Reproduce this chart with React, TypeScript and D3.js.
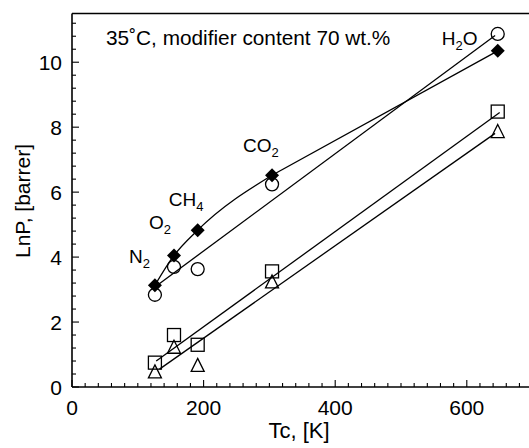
import React from "react";
import * as d3 from "d3";

const gases = ["N2", "O2", "CH4", "CO2", "H2O"];
const tc = [126, 155, 191, 304, 647];
const diamondVals = [3.13, 4.05, 4.83, 6.52, 10.35];
const circleVals = [2.84, 3.7, 3.63, 6.24, 10.87];
const squareVals = [0.75, 1.6, 1.3, 3.56, 8.48];
const triangleVals = [0.48, 1.24, 0.68, 3.25, 7.88];

// straight fit lines: [Tc, LnP] endpoints
const fitCircle: [number, number][] = [[126, 3.08], [643, 10.82]];
const fitSquare: [number, number][] = [[128, 0.8], [650, 8.45]];
const fitTriangle: [number, number][] = [[133, 0.55], [643, 7.81]];

const xTicks = [0, 200, 400, 600];
const yTicks = [0, 2, 4, 6, 8, 10];

const gasLabels = [
  { base: "N", sub: "2", tc: 126, v: 3.13, dx: -26, dy: -22 },
  { base: "O", sub: "2", tc: 155, v: 4.05, dx: -25, dy: -26 },
  { base: "CH", sub: "4", tc: 191, v: 4.83, dx: -29, dy: -24 },
  { base: "CO", sub: "2", tc: 304, v: 6.52, dx: -29, dy: -23 },
  { base: "H", sub: "2", tc: 647, v: 10.87, dx: -56, dy: 11, tail: "O" },
];

const W = 529;
const H = 448;
const FONT = "Liberation Sans, Arial, Helvetica, sans-serif";

export default function App() {
  const x = d3.scaleLinear().domain([0, 700]).range([72, 532.6]);
  const y = d3.scaleLinear().domain([0, 11.5]).range([387, 13.5]);

  const xMinor = d3.range(0, 701, 20);
  const yMinor = d3.range(0, 11.5, 0.4);

  const curve = d3
    .line<[number, number]>()
    .x((d) => x(d[0]))
    .y((d) => y(d[1]))
    .curve(d3.curveMonotoneX);
  const straight = d3
    .line<[number, number]>()
    .x((d) => x(d[0]))
    .y((d) => y(d[1]));

  const diamondPts = tc.map((t, i) => [t, diamondVals[i]] as [number, number]);

  const s = 6.5;
  return (
    <svg
      width={W}
      height={H}
      style={{ position: "absolute", left: 0, top: 0, background: "#fff" }}
      fontFamily={FONT}
    >
      {/* frame */}
      <line x1={x(0)} x2={W + 5} y1={y(11.5)} y2={y(11.5)} stroke="#000" strokeWidth={1.4} />
      <line x1={x(0)} x2={x(0)} y1={y(11.5)} y2={y(0)} stroke="#000" strokeWidth={1.6} />
      <line x1={x(0)} x2={W + 5} y1={y(0)} y2={y(0)} stroke="#000" strokeWidth={1.6} />

      {/* x ticks */}
      {xMinor.map((t) => (
        <line
          key={"xm" + t}
          x1={x(t)}
          x2={x(t)}
          y1={y(0)}
          y2={y(0) - (t % 200 === 0 ? 7 : 4)}
          stroke="#000"
          strokeWidth={1.1}
        />
      ))}
      {xTicks.map((t) => (
        <text key={"xt" + t} x={x(t)} y={415} textAnchor="middle" fontSize={21}>
          {t}
        </text>
      ))}
      {/* y ticks */}
      {yMinor.map((t) => {
        const major = Math.abs(t / 2 - Math.round(t / 2)) < 1e-6;
        return (
          <line
            key={"ym" + t}
            x1={x(0)}
            x2={x(0) + (major ? 7 : 4)}
            y1={y(t)}
            y2={y(t)}
            stroke="#000"
            strokeWidth={1.1}
          />
        );
      })}
      {yTicks.map((t) => (
        <text key={"yt" + t} x={62} y={y(t) + 7.5} textAnchor="end" fontSize={21}>
          {t}
        </text>
      ))}

      {/* axis titles */}
      <text x={299} y={438} textAnchor="middle" fontSize={22}>
        Tc, [K]
      </text>
      <text
        transform={`translate(30,201) rotate(-90)`}
        textAnchor="middle"
        fontSize={21}
      >
        LnP, [barrer]
      </text>

      {/* title */}
      <text x={106} y={45} fontSize={20.8}>
        35˚C, modifier content 70 wt.%
      </text>

      {/* lines */}
      <path d={curve(diamondPts.slice(0, 4)) || ""} fill="none" stroke="#000" strokeWidth={1.3} />
      <path d={straight(diamondPts.slice(3)) || ""} fill="none" stroke="#000" strokeWidth={1.3} />
      <path d={straight(fitCircle) || ""} fill="none" stroke="#000" strokeWidth={1.3} />
      <path d={straight(fitSquare) || ""} fill="none" stroke="#000" strokeWidth={1.3} />
      <path d={straight(fitTriangle) || ""} fill="none" stroke="#000" strokeWidth={1.3} />

      {/* markers */}
      {tc.map((t, i) => (
        <circle
          key={"c" + i}
          cx={x(t)}
          cy={y(circleVals[i])}
          r={s}
          fill="none"
          stroke="#000"
          strokeWidth={1.3}
        />
      ))}
      {tc.map((t, i) => (
        <rect
          key={"s" + i}
          x={x(t) - s}
          y={y(squareVals[i]) - s}
          width={2 * s}
          height={2 * s}
          fill="none"
          stroke="#000"
          strokeWidth={1.3}
        />
      ))}
      {tc.map((t, i) => {
        const cx = x(t);
        const cy = y(triangleVals[i]);
        return (
          <path
            key={"t" + i}
            d={`M${cx},${cy - s}L${cx + s},${cy + s}L${cx - s},${cy + s}Z`}
            fill="none"
            stroke="#000"
            strokeWidth={1.3}
          />
        );
      })}
      {tc.map((t, i) => {
        const cx = x(t);
        const cy = y(diamondVals[i]);
        const r = 7;
        return (
          <path
            key={"d" + i}
            d={`M${cx},${cy - r}L${cx + r},${cy}L${cx},${cy + r}L${cx - r},${cy}Z`}
            fill="#000"
          />
        );
      })}

      {/* gas labels */}
      {gasLabels.map((g, i) => (
        <text key={"g" + i} x={x(g.tc) + g.dx} y={y(g.v) + g.dy} fontSize={19}>
          {g.base}
          <tspan fontSize={13} dy={5}>
            {g.sub}
          </tspan>
          {g.tail ? (
            <tspan dy={-5}>{g.tail}</tspan>
          ) : null}
        </text>
      ))}
    </svg>
  );
}
